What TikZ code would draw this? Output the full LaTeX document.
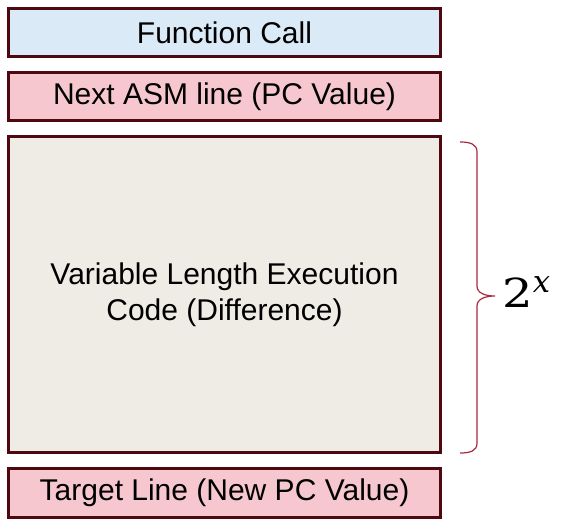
\documentclass[tikz,border=0pt]{standalone}
\usepackage{fontspec}
\setmainfont{Liberation Sans}
\newfontfamily\powfont{DejaVu Serif}
\usetikzlibrary{positioning, calc}

\definecolor{edgeRed}{RGB}{80,8,16}
\definecolor{callBlue}{RGB}{219,234,247}
\definecolor{pcPink}{RGB}{246,199,207}
\definecolor{codeBeige}{RGB}{239,235,229}
\definecolor{braceRed}{RGB}{168,40,62}

\begin{document}
\begin{tikzpicture}[
    x=0.75pt, y=-0.75pt,
    node distance=12pt,
    slot/.style={
        rectangle,
        draw=edgeRed,
        line width=2.25pt,
        outer sep=0pt,
        inner sep=0pt,
        minimum width=324pt,
        minimum height=36pt,
        align=center,
        font=\fontsize{22.5}{27}\selectfont
    },
    call/.style={
        slot,
        fill=callBlue
    },
    pcline/.style={
        slot,
        fill=pcPink
    },
    code/.style={
        slot,
        fill=codeBeige,
        minimum height=237pt
    },
    bracket/.style={
        draw=braceRed,
        line width=0.9pt
    }
]

    \useasboundingbox (0,0) rectangle (563,525);

    % Stack of blocks
    \node[call] (call) at (224.5,32.5) {Function Call};
    \node[pcline, below=of call] (next) {Next ASM line (PC Value)};
    \node[code, below=of next] (code) {Variable Length Execution\\Code (Difference)};
    \node[pcline, below=of code, minimum height=36.75pt] (target) {Target Line (New PC Value)};

    % Brace beside the code block
    \coordinate (brtop) at (460,142);
    \coordinate (brbot) at (460,453);
    \coordinate (brtip) at (495,296);
    \draw[bracket] (brtop) .. controls (470,142) and (477,144) .. (477,152)
        -- (477,286) .. controls (477,293) and (485,296) .. (brtip)
        .. controls (485,296) and (477,299) .. (477,306)
        -- (477,443) .. controls (477,451) and (470,453) .. (brbot);

    \node[anchor=base west, inner sep=0pt, font=\powfont\fontsize{30}{32}\selectfont] (size) at (502,307)
        {\scalebox{1.2}[1]{2}\raisebox{11pt}{\fontsize{23}{23}\selectfont\itshape x}};

\end{tikzpicture}
\end{document}
